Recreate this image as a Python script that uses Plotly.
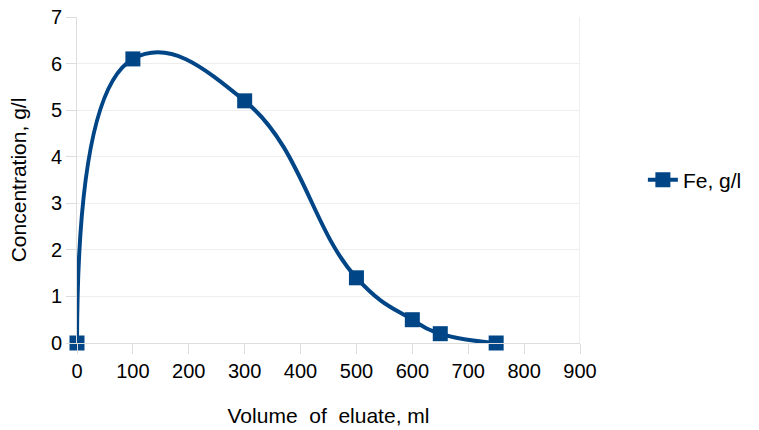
import plotly.graph_objects as go

# Fe elution profile
volume_ml = [0, 100, 300, 500, 600, 650, 750]
fe_conc = [0, 6.1, 5.2, 1.4, 0.5, 0.2, 0]
x_ticks = [0, 100, 200, 300, 400, 500, 600, 700, 800, 900]
y_ticks = [0, 1, 2, 3, 4, 5, 6, 7]

BLUE = "#004586"
GRID = "#dddddd"
FONT = "Liberation Sans, Arial, sans-serif"

fig = go.Figure()
fig.add_trace(go.Scatter(
    x=volume_ml, y=fe_conc, name="Fe, g/l",
    mode="lines+markers",
    line=dict(color=BLUE, width=4, shape="spline", smoothing=1.3),
    marker=dict(symbol="square", size=15, color=BLUE),
    cliponaxis=False,
))

fig.update_layout(
    width=759, height=430,
    margin=dict(l=77, r=179, t=17, b=87, autoexpand=False),
    paper_bgcolor="white", plot_bgcolor="white",
    font=dict(family=FONT, size=20, color="#000000"),
    showlegend=True,
    legend=dict(x=1.125, y=0.5, xanchor="left", yanchor="middle",
                font=dict(size=21), bgcolor="rgba(0,0,0,0)"),
    xaxis=dict(
        range=[0, 900], tickvals=x_ticks, ticktext=[str(v) for v in x_ticks],
        showgrid=False, zeroline=False,
        showline=True, linecolor=GRID, linewidth=1, mirror=False,
        ticks="outside", ticklen=10, tickcolor=GRID,
        title=dict(text="Volume  of  eluate, ml", standoff=27, font=dict(size=21)),
        tickfont=dict(size=20),
    ),
    yaxis=dict(
        range=[0, 7], tickvals=y_ticks,
        showgrid=True, gridcolor="#eeeeee", gridwidth=1, zeroline=False,
        showline=True, linecolor=GRID, linewidth=1,
        ticks="outside", ticklen=10, tickcolor=GRID,
        title=dict(text="Concentration, g/l", standoff=18, font=dict(size=21)),
        tickfont=dict(size=20),
    ),
)

# right border of the plot area
fig.add_shape(type="line", xref="x", yref="paper", x0=900, x1=900, y0=0, y1=1,
              line=dict(color=GRID, width=1), layer="below")

fig.write_html("out.html")
